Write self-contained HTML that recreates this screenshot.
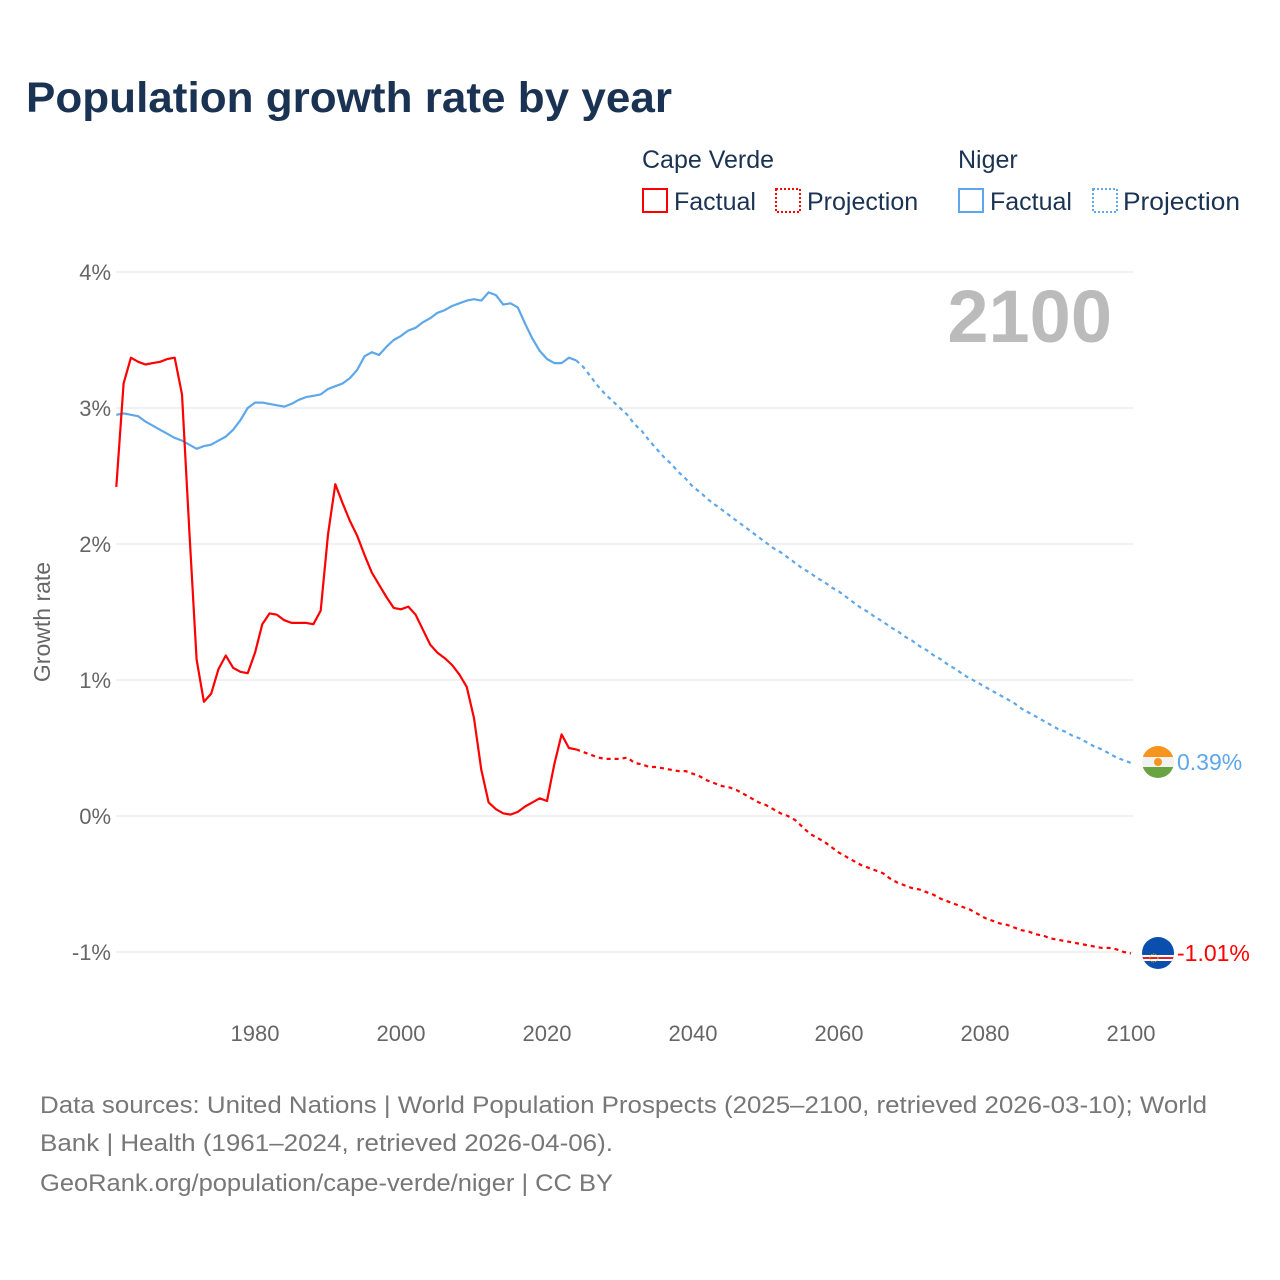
<!DOCTYPE html>
<html><head><meta charset="utf-8"><style>
html,body{margin:0;padding:0;background:#fff;width:1280px;height:1280px;overflow:hidden}
svg text{font-family:"Liberation Sans",sans-serif}
</style></head><body>
<svg id="chart" width="1280" height="1280" xmlns="http://www.w3.org/2000/svg">
<text x="26" y="112" font-size="43" font-weight="bold" fill="#1b3352" textLength="646" lengthAdjust="spacingAndGlyphs">Population growth rate by year</text>
<g font-size="25" fill="#1b3352">
<text x="642" y="168">Cape Verde</text>
<text x="958" y="168">Niger</text>
<g><rect x="643" y="189" width="24" height="23" fill="none" stroke="#f00" stroke-width="2"/><text x="674" y="210">Factual</text></g>
<g><rect x="776" y="189" width="24" height="23" fill="none" stroke="#f00" stroke-width="2" stroke-dasharray="2,2"/><text x="807" y="210">Projection</text></g>
<g><rect x="959" y="189" width="24" height="23" fill="none" stroke="#5ea7ea" stroke-width="2"/><text x="990" y="210">Factual</text></g>
<g><rect x="1093" y="189" width="24" height="23" fill="none" stroke="#5ea7ea" stroke-width="2" stroke-dasharray="2,2"/><text x="1123" y="210" textLength="117" lengthAdjust="spacingAndGlyphs">Projection</text></g>
</g>
<g id="grid"></g>
<g id="yticks"></g>
<g id="xticks"></g>
<text transform="translate(50,622) rotate(-90)" text-anchor="middle" font-size="23" fill="#666">Growth rate</text>
<text x="1112" y="342" text-anchor="end" font-size="74" font-weight="bold" fill="#bbb">2100</text>
<g id="series"></g>
<g>
<clipPath id="cn"><circle cx="1158" cy="762" r="16"/></clipPath>
<g clip-path="url(#cn)"><rect x="1140" y="746" width="36" height="11" fill="#f7941d"/><rect x="1140" y="757" width="36" height="10" fill="#f2f2f2"/><rect x="1140" y="767" width="36" height="12" fill="#6aa341"/><circle cx="1158" cy="762" r="4" fill="#f7941d"/></g>
</g>
<g>
<clipPath id="cc"><circle cx="1158" cy="953" r="16"/></clipPath>
<g clip-path="url(#cc)"><rect x="1140" y="936" width="36" height="34" fill="#0a4fae"/><rect x="1140" y="955" width="36" height="2" fill="#fff"/><rect x="1140" y="957" width="36" height="2" fill="#e0202a"/><rect x="1140" y="959" width="36" height="2" fill="#fff"/><circle cx="1154" cy="958" r="4" fill="none" stroke="#f5c400" stroke-width="1" stroke-dasharray="1,1"/></g>
</g>
<text x="1177" y="770" font-size="23" fill="#5ea7ea">0.39%</text>
<text x="1177" y="961" font-size="23" fill="#f00">-1.01%</text>
<g font-size="24" fill="#777">
<text x="40" y="1113" textLength="1167" lengthAdjust="spacingAndGlyphs">Data sources: United Nations | World Population Prospects (2025–2100, retrieved 2026-03-10); World</text>
<text x="40" y="1151" textLength="573" lengthAdjust="spacingAndGlyphs">Bank | Health (1961–2024, retrieved 2026-04-06).</text>
<text x="40" y="1191" textLength="573" lengthAdjust="spacingAndGlyphs">GeoRank.org/population/cape-verde/niger | CC BY</text>
</g>
</svg>
<script>
const yTicks=[4,3,2,1,0,-1];
const yTickLabels=["4%","3%","2%","1%","0%","-1%"];
const xTicks=[1980,2000,2020,2040,2060,2080,2100];
const factualStart=1961;
const projStart=2024;
const cvFactual=[2.42,3.18,3.37,3.34,3.32,3.33,3.34,3.36,3.37,3.10,2.1,1.15,0.84,0.90,1.08,1.18,1.09,1.06,1.05,1.20,1.41,1.49,1.48,1.44,1.42,1.42,1.42,1.41,1.51,2.07,2.44,2.30,2.17,2.06,1.92,1.79,1.70,1.61,1.53,1.52,1.54,1.48,1.37,1.26,1.20,1.16,1.11,1.04,0.95,0.72,0.34,0.10,0.05,0.02,0.01,0.03,0.07,0.10,0.13,0.11,0.38,0.60,0.50,0.49];
const cvProjection=[0.49,0.47,0.45,0.43,0.42,0.42,0.42,0.43,0.39,0.38,0.36,0.36,0.35,0.34,0.33,0.33,0.31,0.29,0.26,0.24,0.22,0.21,0.19,0.16,0.13,0.10,0.08,0.05,0.02,0.0,-0.03,-0.08,-0.13,-0.16,-0.19,-0.23,-0.27,-0.30,-0.33,-0.36,-0.38,-0.40,-0.42,-0.46,-0.49,-0.51,-0.53,-0.54,-0.56,-0.58,-0.61,-0.63,-0.65,-0.67,-0.69,-0.72,-0.75,-0.77,-0.79,-0.80,-0.82,-0.84,-0.85,-0.87,-0.88,-0.90,-0.91,-0.92,-0.93,-0.94,-0.95,-0.96,-0.97,-0.97,-0.98,-1.00,-1.01];
const neFactual=[2.95,2.96,2.95,2.94,2.90,2.87,2.84,2.81,2.78,2.76,2.73,2.70,2.72,2.73,2.76,2.79,2.84,2.91,3.00,3.04,3.04,3.03,3.02,3.01,3.03,3.06,3.08,3.09,3.10,3.14,3.16,3.18,3.22,3.28,3.38,3.41,3.39,3.45,3.50,3.53,3.57,3.59,3.63,3.66,3.70,3.72,3.75,3.77,3.79,3.80,3.79,3.85,3.83,3.76,3.77,3.74,3.62,3.51,3.42,3.36,3.33,3.33,3.37,3.35];
const neProjection=[3.35,3.30,3.23,3.16,3.10,3.05,3.00,2.95,2.88,2.83,2.76,2.70,2.64,2.59,2.53,2.48,2.42,2.38,2.33,2.29,2.25,2.21,2.17,2.13,2.09,2.05,2.01,1.97,1.94,1.90,1.86,1.82,1.79,1.75,1.72,1.68,1.65,1.61,1.57,1.53,1.50,1.46,1.43,1.39,1.36,1.32,1.29,1.25,1.22,1.18,1.15,1.11,1.08,1.04,1.01,0.98,0.95,0.92,0.89,0.86,0.83,0.79,0.76,0.73,0.70,0.67,0.64,0.62,0.59,0.57,0.54,0.51,0.49,0.46,0.43,0.41,0.39];

const NS="http://www.w3.org/2000/svg";
const xs=y=>255+(y-1980)*7.3;
const ys=v=>816-v*136;
function mk(tag,attrs,parent){const e=document.createElementNS(NS,tag);for(const k in attrs)e.setAttribute(k,attrs[k]);parent.appendChild(e);return e;}
const grid=document.getElementById('grid'),yt=document.getElementById('yticks'),xt=document.getElementById('xticks'),ser=document.getElementById('series');
yTicks.forEach((v,i)=>{
 const l=mk('line',{x1:116,x2:1133,y1:ys(v),y2:ys(v),stroke:'#e3e3e3','stroke-width':1},grid);
 
 
 const t=mk('text',{x:111,y:ys(v)+8,'text-anchor':'end','font-size':22,fill:'#666'},yt);
 t.textContent=yTickLabels[i];
 
 
});
xTicks.forEach(y=>{
 const t=mk('text',{x:xs(y),y:1041,'text-anchor':'middle','font-size':22,fill:'#666'},xt);
 t.textContent=y;
 
 
});
function line(vals,start,color,dash,name){
 const d=vals.map((v,i)=>(i?'L':'M')+xs(start+i).toFixed(1)+','+ys(v).toFixed(1)).join('');
 const p=mk('path',{d:d,fill:'none',stroke:color,'stroke-width':2.2,'stroke-linejoin':'round'},ser);
 if(dash)p.setAttribute('stroke-dasharray',dash);
 
 
}
line(neProjection,projStart,'#5ea7ea','4,4','niger-projection-line');
line(neFactual,factualStart,'#5ea7ea',null,'niger-factual-line');
line(cvProjection,projStart,'#f00','4,4','cape-verde-projection-line');
line(cvFactual,factualStart,'#f00',null,'cape-verde-factual-line');
</script>
</body></html>
